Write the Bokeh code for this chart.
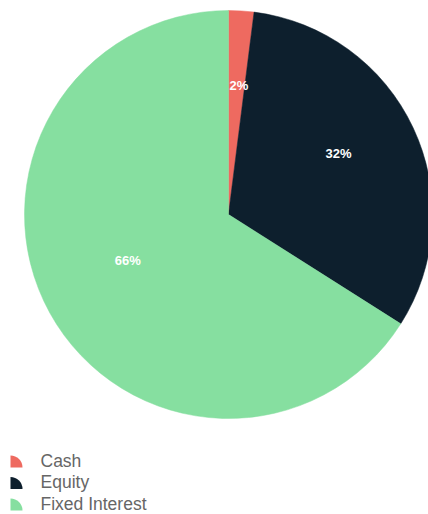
import math
from bokeh.plotting import figure
from bokeh.models import Range1d, ColumnDataSource
from bokeh.core.properties import value
from bokeh.embed import file_html
from bokeh.resources import INLINE

# ---- data ----
categories = ["Cash", "Equity", "Fixed Interest"]
shares = [2, 32, 66]
colors = ["#EE6A60", "#0D1F2D", "#86DFA0"]
pct_labels = ["2%", "32%", "66%"]

W, H = 428, 514
p = figure(width=W, height=H, output_backend="svg", toolbar_location=None,
           x_range=Range1d(0, W), y_range=Range1d(0, H),
           x_axis_type=None, y_axis_type=None, min_border=0)
p.outline_line_color = None
p.grid.visible = False
p.background_fill_color = "white"

cx, cy, R = 228, H - 214, 204
total = float(sum(shares))
starts, ends, lx, ly = [], [], [], []
acc = 0.0
for s in shares:
    a0 = math.pi / 2 - 2 * math.pi * acc / total
    a1 = math.pi / 2 - 2 * math.pi * (acc + s) / total
    starts.append(a0)
    ends.append(a1)
    mid = (a0 + a1) / 2
    lx.append(cx + 0.58 * R * math.cos(mid) + 3)
    ly.append(cy + 0.58 * R * math.sin(mid) + 11)
    acc += s

src = ColumnDataSource(dict(start=starts, end=ends, color=colors,
                            lx=lx, ly=ly, lab=pct_labels))
p.wedge(x=cx, y=cy, radius=R, start_angle="start", end_angle="end",
        direction="clock", fill_color="color", line_color="color",
        line_width=0.5, source=src)
p.text(x="lx", y="ly", text="lab", source=src, text_color="white",
       text_font=value("Liberation Sans"), text_font_style="bold",
       text_font_size="13px", text_align="center", text_baseline="middle")

# ---- legend ----
n = len(categories)
leg_y0 = H - 467
step = 21.5
icon_y = [leg_y0 - i * step for i in range(n)]
text_y = [y + 7 for y in icon_y]
leg = ColumnDataSource(dict(iy=icon_y, ty=text_y, name=categories, color=colors))
p.wedge(x=10, y="iy", radius=12, start_angle=0, end_angle=math.pi / 2,
        fill_color="color", line_color=None, source=leg)
p.text(x=40, y="ty", text="name", source=leg, text_color="#666666",
       text_font=value("Liberation Sans"), text_font_size="17.5px",
       text_align="left", text_baseline="middle")

open("out.html", "w").write(file_html(p, INLINE))
